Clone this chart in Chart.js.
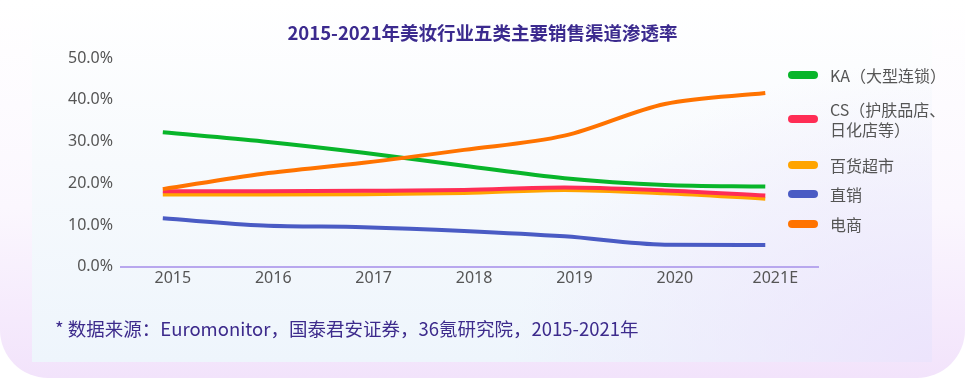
<!DOCTYPE html>
<html><head><meta charset="utf-8">
<script src="https://cdn.jsdelivr.net/npm/chart.js@4.4.0/dist/chart.umd.min.js"></script>
<style>
html,body{margin:0;padding:0;width:965px;height:378px;overflow:hidden;background:#fff;font-family:"Noto Sans CJK SC","Noto Sans",sans-serif;}
#wrap{position:relative;width:965px;height:378px;}
#outer{position:absolute;left:0;top:0;width:965px;height:378px;border-radius:0 0 48px 48px;
 background:linear-gradient(180deg,#ffffff 0%,#fbf7fe 55%,#f2e3fb 100%);}
#inner{position:absolute;left:32px;top:0;width:900px;height:362px;
 background:radial-gradient(ellipse 420px 300px at 100% 100%,rgba(236,226,252,0.9) 0%,rgba(236,226,252,0) 100%),
            linear-gradient(180deg,#ffffff 0%,#f7fafd 45%,#eef5fc 100%);}
canvas{position:absolute;left:0;top:0;}
#title{position:absolute;left:0;width:965px;top:20px;text-align:center;font-weight:bold;font-size:18.5px;color:#3b2a8e;line-height:24px;}
#foot{position:absolute;left:55px;top:316px;font-size:18.5px;color:#3d2b8c;line-height:24px;white-space:nowrap;}
.lg{position:absolute;left:788px;}
.sw{position:absolute;left:0;width:30px;height:8px;border-radius:4px;}
.tx{position:absolute;left:42px;font-size:16px;color:#555;line-height:20px;white-space:nowrap;}
</style></head>
<body><div id="wrap">
<div id="outer"></div><div id="inner"></div>
<canvas id="c" width="965" height="378"></canvas>
<div id="title">2015-2021年美妆行业五类主要销售渠道渗透率</div>
<div id="foot">* 数据来源：Euromonitor，国泰君安证券，36氪研究院，2015-2021年</div>
<div id="legend"></div>
</div>
<script>
const years = ['2015','2016','2017','2018','2019','2020','2021E'];
const seriesNames = ['KA（大型连锁）','CS（护肤品店、\n日化店等）','百货超市','直销','电商'];
const ka     = [32.2, 30.0, 27.3, 24.2, 21.2, 19.6, 19.2];
const cs     = [18.1, 18.1, 18.2, 18.4, 19.0, 18.3, 17.1];
const dept   = [17.3, 17.3, 17.4, 17.7, 18.4, 17.6, 16.3];
const direct = [11.6, 9.9, 9.5, 8.6, 7.3, 5.3, 5.2];
const ecom   = [18.6, 22.3, 24.9, 28.0, 31.4, 39.0, 41.6];
const yTicks = [0, 10, 20, 30, 40, 50];

const colors = ['#08b52a','#ff2d55','#ffa400','#4a5bc4','#ff7300'];
const values = [ka, cs, dept, direct, ecom];
const drawOrder = [1, 2, 3, 4, 0];

const datasets = values.map((arr, k) => ({
  label: seriesNames[k],
  data: arr.map((v, i) => ({x: i, y: v})),
  borderColor: colors[k],
  backgroundColor: colors[k],
  borderWidth: 4,
  pointRadius: 0,
  cubicInterpolationMode: 'monotone',
  fill: false,
  order: drawOrder[k]
}));

new Chart(document.getElementById('c'), {
  type: 'line',
  data: { datasets },
  options: {
    responsive: false,
    animation: false,
    layout: { padding: { left: 60, right: 147, top: 58, bottom: 88 } },
    plugins: { legend: { display: false }, title: { display: false }, tooltip: { enabled: false } },
    scales: {
      x: {
        type: 'linear',
        min: -0.416, max: 6.525,
        afterBuildTicks: s => { s.ticks = years.map((_, i) => ({ value: i })); },
        ticks: { callback: v => years[v], color: '#555', font: { size: 16, family: 'Noto Sans' }, padding: 2, labelOffset: 10, maxRotation: 0, autoSkip: false },
        grid: { display: false, drawTicks: false },
        border: { display: true, color: '#b8a7ee', width: 2 }
      },
      y: {
        min: 0, max: 50,
        afterBuildTicks: s => { s.ticks = yTicks.map(v => ({ value: v })); },
        ticks: { callback: v => v.toFixed(1) + '%', color: '#555', font: { size: 16, family: 'Noto Sans' }, padding: 8 },
        grid: { display: false, drawTicks: false },
        border: { display: false }
      }
    }
  }
});

// HTML legend
const legendY = [75, 119, 165, 194, 224];
const lg = document.getElementById('legend');
seriesNames.forEach((name, k) => {
  const d = document.createElement('div');
  d.className = 'lg';
  d.style.top = legendY[k] + 'px';
  const sw = document.createElement('div');
  sw.className = 'sw'; sw.style.top = '-4px'; sw.style.background = colors[k];
  const tx = document.createElement('div');
  tx.className = 'tx';
  const lines = name.split('\n');
  tx.style.top = (-10 * lines.length) + 'px';
  tx.innerHTML = lines.join('<br>');
  d.appendChild(sw); d.appendChild(tx);
  lg.appendChild(d);
});
</script>
</body></html>
